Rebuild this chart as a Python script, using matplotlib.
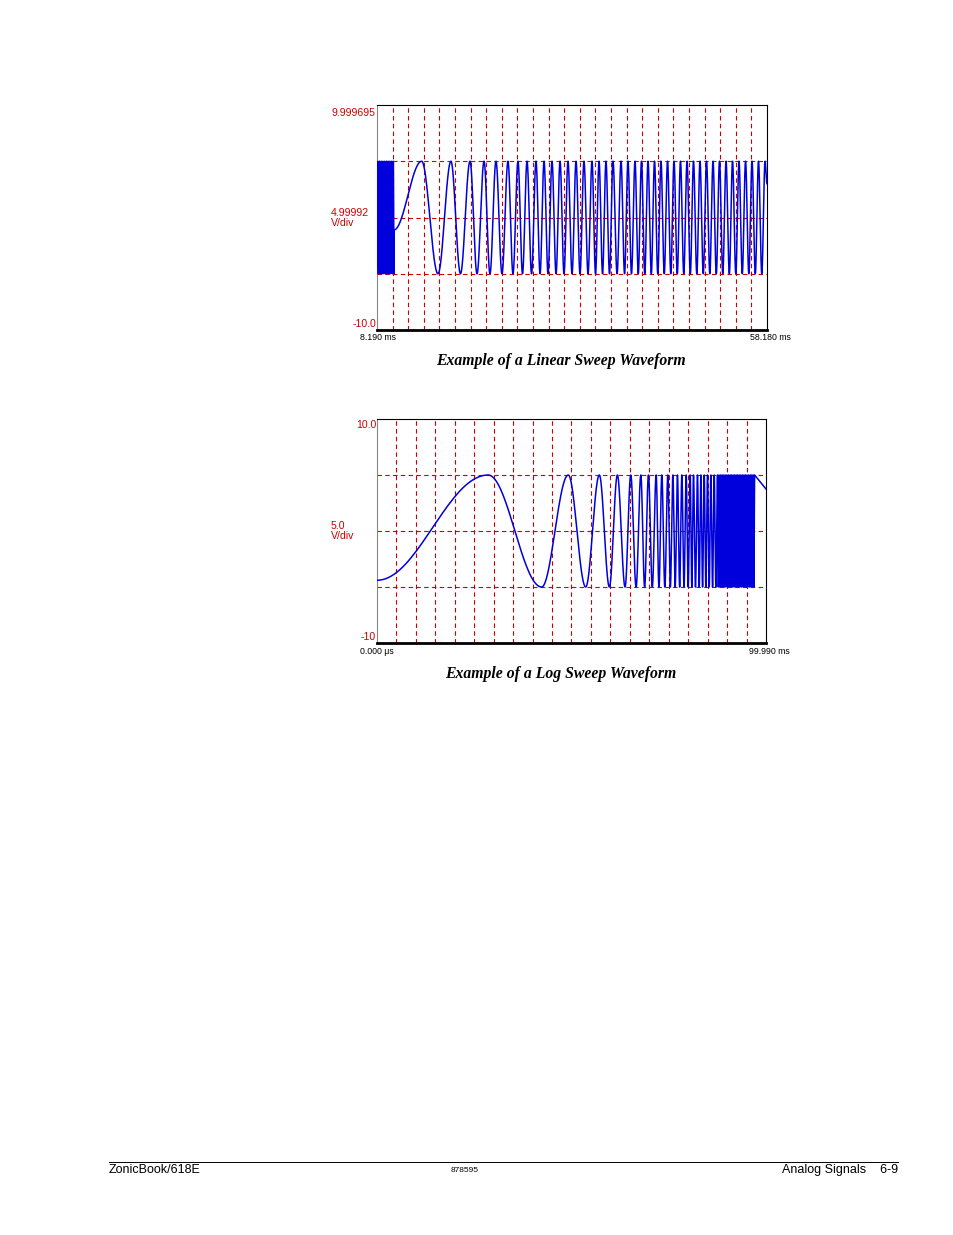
import numpy as np
import matplotlib
matplotlib.use("Agg")
import matplotlib.pyplot as plt

# ---------- data ----------
# Linear sweep: extrema times (ms) and values (V)
lin_dense_t = [8.19, 8.30, 8.41, 8.52, 8.63, 8.74, 8.85, 8.96, 9.07, 9.18, 9.29, 9.40,
               9.51, 9.62, 9.73, 9.84, 9.95, 10.06, 10.17, 10.28, 10.37]
lin_peaks_t = [13.92, 17.67, 20.11, 21.91, 23.44, 24.98, 26.26, 27.42, 28.57, 29.60,
               30.62, 31.65, 32.67, 33.70, 34.72, 35.75, 36.65, 37.54, 38.44, 39.47,
               40.36, 41.26, 42.09, 42.93, 43.76, 44.59, 45.43, 46.26, 47.09, 47.93,
               48.76, 49.59, 50.43, 51.26, 52.09, 52.93, 53.76, 54.59, 55.43, 56.26,
               57.09, 57.93]
lin_troughs_t = [16.01, 18.89, 21.01, 22.67, 24.21, 25.62, 26.84, 28.00, 29.09, 30.11,
                 31.14, 32.16, 33.19, 34.21, 35.24, 36.20, 37.10, 37.99, 38.96, 39.92,
                 40.81, 41.68, 42.51, 43.35, 44.18, 45.01, 45.85, 46.68, 47.51, 48.35,
                 49.18, 50.01, 50.85, 51.68, 52.51, 53.35, 54.18, 55.01, 55.85, 56.68,
                 57.51]
lin_restart_value = -1.1
lin_end_value = 3.0
lin_amp = 5.0

# Log sweep: extrema times (ms)
log_start_value = -4.4
log_peaks_t = [28.58, 49.17, 57.15, 61.79, 65.23, 67.81, 69.77, 71.75, 73.21, 74.76,
               76.05, 77.23, 78.36, 79.47, 80.50, 81.35, 82.38, 83.26, 84.11, 84.96,
               85.83, 86.68, 87.53, 87.93, 88.33, 88.73, 89.13, 89.53, 89.93, 90.33,
               90.73, 91.13, 91.53, 91.93, 92.33, 92.73, 93.13, 93.53, 93.93, 94.33,
               94.73, 95.13, 95.53, 95.93, 96.33, 96.73, 97.06]
log_troughs_t = [42.32, 53.65, 59.73, 63.77, 66.60]
log_end_value = 3.75
log_amp = 5.0


def half_waves(ts, vs, n=40):
    xs, ys = [], []
    for i in range(len(ts) - 1):
        s = np.linspace(0, 1, n)
        xs.append(ts[i] + (ts[i + 1] - ts[i]) * s)
        ys.append(vs[i] + (vs[i + 1] - vs[i]) * (1 - np.cos(np.pi * s)) / 2)
    return np.concatenate(xs), np.concatenate(ys)


# linear series
lt, lv = [], []
for i, t in enumerate(lin_dense_t):
    lt.append(t); lv.append(lin_amp if i % 2 else -lin_amp)
ext = sorted([(t, lin_amp) for t in lin_peaks_t] + [(t, -lin_amp) for t in lin_troughs_t])
t2 = [lin_dense_t[-1]] + [e[0] for e in ext] + [58.18]
v2 = [lin_restart_value] + [e[1] for e in ext] + [lin_end_value]
x1a, y1a = half_waves(lt, lv, 6)
x1b, y1b = half_waves(t2, v2)
x1 = np.concatenate([x1a, x1b]); y1 = np.concatenate([y1a, y1b])

# log series
pk = log_peaks_t
tr = list(log_troughs_t)
for i in range(len(tr), len(pk) - 1):
    tr.append((pk[i] + pk[i + 1]) / 2)
ext = sorted([(t, log_amp) for t in pk] + [(t, -log_amp) for t in tr])
t3 = [0.0] + [e[0] for e in ext]
v3 = [log_start_value] + [e[1] for e in ext]
x2, y2 = half_waves(t3, v3)
x2 = np.append(x2, 99.99); y2 = np.append(y2, log_end_value)

# ---------- figure ----------
W, H = 954, 1235
fig = plt.figure(figsize=(W / 100, H / 100), dpi=100)
plt.rcParams['font.family'] = ['Liberation Sans', 'DejaVu Sans']
red = '#cc0000'


def ax_at(l, t, r, b):
    return fig.add_axes([l / W, 1 - b / H, (r - l) / W, (b - t) / H])


def style(ax, x0, x1_, ndiv):
    ax.set_xlim(x0, x1_)
    ax.set_ylim(-10, 10)
    ax.set_xticks([]); ax.set_yticks([])
    for k in range(1, ndiv):
        ax.axvline(x0 + (x1_ - x0) * k / ndiv, color=red, ls=(0, (4, 3)), lw=0.8, zorder=1)
    for yv in (-5, 0, 5):
        ax.axhline(yv, color=red, ls=(0, (4, 3)), lw=0.8, zorder=1)
    for s in ('top', 'right'):
        ax.spines[s].set_linewidth(0.8)
    ax.spines['left'].set_color('#888888')
    ax.spines['bottom'].set_linewidth(2)


ax1 = ax_at(377, 105, 767, 330)
style(ax1, 8.19, 58.18, 25)
ax1.plot(x1, y1, color='#0000dd', lw=1.1, zorder=3)

ax2 = ax_at(377, 419, 766, 643)
style(ax2, 0.0, 99.99, 20)
ax2.plot(x2, y2, color='#0000dd', lw=1.1, zorder=3)


def txt(x, y, s, **kw):
    fig.text(x / W, 1 - y / H, s, **kw)


fs = 7.6
txt(376, 113, '9.999695', color=red, fontsize=fs, ha='right', va='center')
txt(331, 218, '4.99992\nV/div', color=red, fontsize=fs, ha='left', va='center', linespacing=1.1)
txt(376, 324, '-10.0', color=red, fontsize=fs, ha='right', va='center')
txt(360, 338, '8.190 ms', color='black', fontsize=6.3, ha='left', va='center')
txt(791, 338, '58.180 ms', color='black', fontsize=6.3, ha='right', va='center')

txt(376, 425, '10.0', color=red, fontsize=fs, ha='right', va='center')
txt(331, 531, '5.0\nV/div', color=red, fontsize=fs, ha='left', va='center', linespacing=1.1)
txt(376, 637, '-10', color=red, fontsize=fs, ha='right', va='center')
txt(360, 651, '0.000 μs', color='black', fontsize=6.3, ha='left', va='center')
txt(790, 651, '99.990 ms', color='black', fontsize=6.3, ha='right', va='center')

cap = dict(fontsize=11.3, family='Liberation Serif', style='italic', weight='bold',
           ha='center', va='center')
txt(561, 361, 'Example of a Linear Sweep Waveform', **cap)
txt(561, 674, 'Example of a Log Sweep Waveform', **cap)

fig.add_artist(plt.Line2D([109 / W, 898 / W], [1 - 1162 / H] * 2, color='black', lw=0.7))
txt(109, 1170, 'ZonicBook/618E', fontsize=9, ha='left', va='center')
txt(465, 1171, '878595', fontsize=6, ha='center', va='center')
txt(898, 1170, 'Analog Signals    6-9', fontsize=9, ha='right', va='center')

fig.savefig('out.png', dpi=100)
